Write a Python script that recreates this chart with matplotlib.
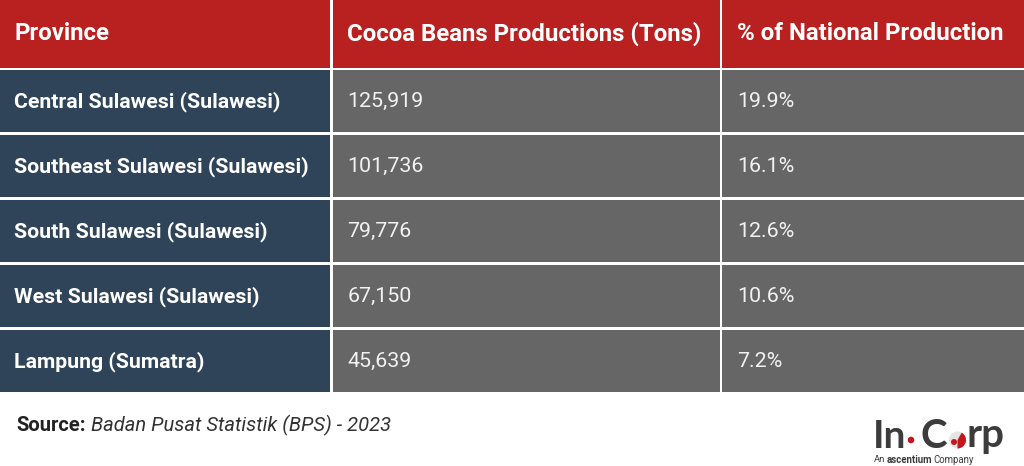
import matplotlib
matplotlib.use("Agg")
import matplotlib.pyplot as plt
from matplotlib.patches import Rectangle, Circle, Wedge

plt.rcParams["font.family"] = ["Roboto", "DejaVu Sans"]

headers = ["Province", "Cocoa Beans Productions (Tons)", "% of National Production"]
provinces = ["Central Sulawesi (Sulawesi)", "Southeast Sulawesi (Sulawesi)", "South Sulawesi (Sulawesi)",
             "West Sulawesi (Sulawesi)", "Lampung (Sumatra)"]
production = ["125,919", "101,736", "79,776", "67,150", "45,639"]
share = ["19.9%", "16.1%", "12.6%", "10.6%", "7.2%"]

col_x = [0, 332.5, 722]
col_end = [330, 720, 1024]
text_x = [15, 347.5, 737.5]
row_top = [70, 135, 200, 265, 330]
row_bot = [132, 197, 262, 327, 392]

RED = "#b92020"
NAVY = "#2f4459"
GREY = "#666666"

fig = plt.figure(figsize=(10.24, 4.66), dpi=100)
ax = fig.add_axes([0, 0, 1, 1])
ax.set_xlim(0, 1024)
ax.set_ylim(466, 0)
ax.axis("off")

# header row
for x0, x1, tx, h in zip(col_x, col_end, text_x, headers):
    ax.add_patch(Rectangle((x0, 0), x1 - x0, 67.5, color=RED, lw=0))
    ax.text(tx - 0.5, 34, h, color="white", fontsize=17.3, fontweight="bold", va="center", ha="left")

# body rows
for i in range(len(provinces)):
    top, bot = row_top[i], row_bot[i]
    ax.add_patch(Rectangle((col_x[0], top), col_end[0] - col_x[0], bot - top, color=NAVY, lw=0))
    ax.add_patch(Rectangle((col_x[1], top), col_end[1] - col_x[1], bot - top, color=GREY, lw=0))
    ax.add_patch(Rectangle((col_x[2], top), col_end[2] - col_x[2], bot - top, color=GREY, lw=0))
    mid = (top + bot) / 2 + 0.5
    ax.text(text_x[0] - 0.5, mid, provinces[i], color="white", fontsize=15.3, fontweight="bold", va="center")
    ax.text(text_x[1], mid, production[i], color="#f2f2f2", fontsize=15.4, va="center")
    ax.text(text_x[2], mid, share[i], color="#f2f2f2", fontsize=15.4, va="center")

# source line
ax.text(16.5, 425.5, "Source:", color="#222222", fontsize=14.5, fontweight="bold", va="center")
ax.text(91, 425.5, "Badan Pusat Statistik (BPS) - 2023", color="#333333", fontsize=14.5, style="italic", va="center")

# logo
logo = "#3c3c3c"
ax.text(873, 436, "In", color=logo, fontsize=28, fontweight="bold", family="Lato", va="center", ha="left")
ax.add_patch(Circle((911, 440), 3.3, color="#c4161c", lw=0))
ax.text(920, 436, "C", color=logo, fontsize=29, fontweight="bold", family="Lato", va="center", ha="left")
ax.add_patch(Circle((957.5, 440), 8.5, color="#e4e4e4", lw=0))
ax.add_patch(Wedge((957.5, 440), 8.5, 300, 90, color="#c4161c", lw=0))
ax.add_patch(Circle((954, 442), 3, color="#c4161c", lw=0))
ax.text(966.5, 436, "rp", color=logo, fontsize=29, fontweight="bold", family="Lato", va="center", ha="left")
ax.text(874, 460, "An", color=logo, fontsize=6.8, va="center")
ax.text(887, 460, "ascentium", color=logo, fontsize=6.9, fontweight="bold", va="center")
ax.text(933, 460, "Company", color=logo, fontsize=6.9, va="center")

fig.savefig("out.png", dpi=100, facecolor="white")
